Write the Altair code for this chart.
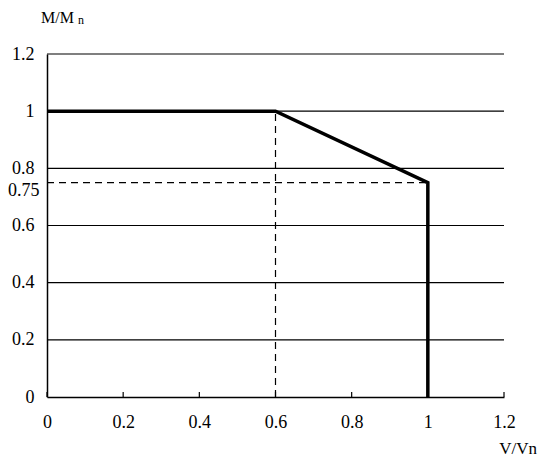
import altair as alt
import pandas as pd

# Data
line_x = [0, 0.6, 1.0, 1.0]
line_y = [1.0, 1.0, 0.75, 0.0]
dash_x = [0.6, 0.0]
dash_x2 = [0.6, 1.0]
dash_y = [0.0, 0.75]
dash_y2 = [1.0, 0.75]
grid_y = [0.2, 0.4, 0.6, 0.8, 1.0, 1.2]
x_ticks = [0, 0.2, 0.4, 0.6, 0.8, 1.0, 1.2]
y_ticks = [0, 0.2, 0.4, 0.6, 0.8, 1.0, 1.2]
extra_y_label = [0.75]

W, H = 457, 343
FONT = "Liberation Serif"

line_df = pd.DataFrame({"x": line_x, "y": line_y, "o": list(range(len(line_x)))})
dash_df = pd.DataFrame({"x": dash_x, "x2": dash_x2, "y": dash_y, "y2": dash_y2})
grid_df = pd.DataFrame({"y": grid_y})
tick_df = pd.DataFrame({"x": x_ticks})
extra_df = pd.DataFrame({"y": extra_y_label, "t": ["0.75"]})
one = pd.DataFrame({"a": [0]})

xscale = alt.Scale(domain=[0, 1.2], nice=False, zero=True)
yscale = alt.Scale(domain=[0, 1.2], nice=False, zero=True)

xaxis = alt.Axis(values=x_ticks, grid=False, ticks=False, title=None, domainColor="black",
                 domainWidth=1.5, labelFont=FONT, labelFontSize=18, labelColor="black",
                 labelPadding=16, labelFlush=False, labelOverlap=False, format="~g")
yaxis = alt.Axis(values=y_ticks, grid=False, ticks=False, title=None, domainColor="black",
                 domainWidth=1.5, labelFont=FONT, labelFontSize=18, labelColor="black",
                 labelPadding=13, labelFlush=False, labelOverlap=False, format="~g")

grid = alt.Chart(grid_df).mark_rule(color="black", strokeWidth=1.1).encode(
    y=alt.Y("y:Q", scale=yscale, axis=yaxis),
    x=alt.value(0), x2=alt.value(W),
)

ticks = alt.Chart(tick_df).mark_rule(color="black", strokeWidth=1.2).encode(
    x=alt.X("x:Q", scale=xscale, axis=xaxis),
    y=alt.value(H), y2=alt.value(H - 5),
)

dashes = alt.Chart(dash_df).mark_rule(color="black", strokeWidth=1.2, strokeDash=[7, 5]).encode(
    x=alt.X("x:Q", scale=xscale, axis=xaxis), x2="x2:Q",
    y=alt.Y("y:Q", scale=yscale, axis=yaxis), y2="y2:Q",
)

line = alt.Chart(line_df).mark_line(color="black", strokeWidth=3.5, strokeJoin="miter").encode(
    x=alt.X("x:Q", scale=xscale, axis=xaxis),
    y=alt.Y("y:Q", scale=yscale, axis=yaxis),
    order="o:Q",
)

extra_label = alt.Chart(extra_df).mark_text(font=FONT, fontSize=18, align="left", baseline="middle",
                                            color="black", dy=8).encode(
    y=alt.Y("y:Q", scale=yscale, axis=yaxis),
    x=alt.value(-39), text="t:N")

t1 = alt.Chart(one).mark_text(font=FONT, fontSize=16, align="left", baseline="alphabetic", color="black").encode(
    x=alt.value(-6), y=alt.value(-31), text=alt.value("M/M"))
t1n = alt.Chart(one).mark_text(font=FONT, fontSize=12, align="left", baseline="alphabetic", color="black").encode(
    x=alt.value(31), y=alt.value(-30), text=alt.value("n"))
t2 = alt.Chart(one).mark_text(font=FONT, fontSize=17, align="right", baseline="alphabetic", color="black").encode(
    x=alt.value(490), y=alt.value(400), text=alt.value("V/Vn"))

chart = alt.layer(grid, ticks, dashes, line, extra_label, t1, t1n, t2).properties(
    width=W, height=H,
    autosize=alt.AutoSizeParams(type="none"),
    padding={"left": 39, "top": 46, "right": 39, "bottom": 62},
    background="white",
).configure_view(stroke=None)

chart.save("out.html", embed_options={"renderer": "svg", "actions": False})
